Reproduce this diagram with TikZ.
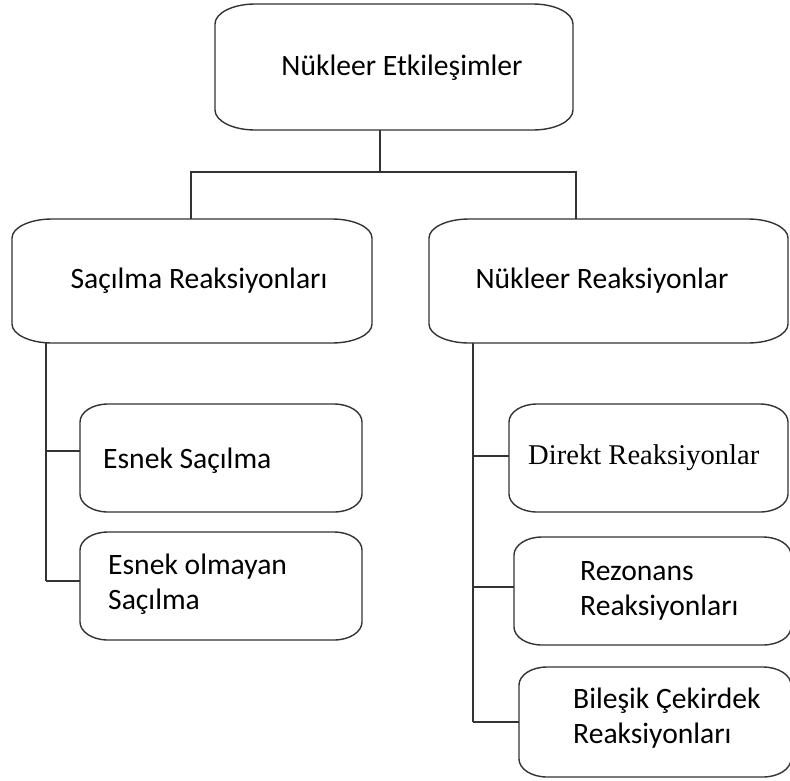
\documentclass[tikz,border=0pt]{standalone}
\usepackage{fontspec}
\setmainfont{Carlito}
\newfontfamily\timesf{Liberation Serif}
\tikzset{
  boxline/.style={draw=black!80, line width=1.4pt},
  conn/.style={draw=black!80, line width=1.4pt},
  frame/.style={inner sep=0pt, outer sep=0pt, draw=none},
  lbl/.style={inner sep=0pt, text=black, font=\fontsize{29.6}{35}\selectfont},
  lbll/.style={lbl, anchor=west, align=left}
}
\newcommand{\ebox}[3]{% name, rx, ry
  \draw[boxline] ([xshift=#2]#1.north west) -- ([xshift=-#2]#1.north east)
    arc[start angle=90, end angle=0, x radius=#2, y radius=#3]
    -- ([yshift=#3]#1.south east)
    arc[start angle=0, end angle=-90, x radius=#2, y radius=#3]
    -- ([xshift=#2]#1.south west)
    arc[start angle=270, end angle=180, x radius=#2, y radius=#3]
    -- ([yshift=-#3]#1.north west)
    arc[start angle=180, end angle=90, x radius=#2, y radius=#3] -- cycle;}
\begin{document}
\begin{tikzpicture}[x=1pt,y=-1pt]
\useasboundingbox[fill=white] (0,0) rectangle (790,780);
% boxes
\node[frame, minimum width=358pt, minimum height=126pt] (top) at (394,67) {};
\node[frame, minimum width=360pt, minimum height=124pt] (L) at (192,281) {};
\node[frame, minimum width=359pt, minimum height=124pt] (R) at (608.5,281) {};
\node[frame, minimum width=282pt, minimum height=108pt] (L1) at (221,458) {};
\node[frame, minimum width=282pt, minimum height=108pt] (L2) at (221,586) {};
\node[frame, minimum width=279pt, minimum height=108pt] (R1) at (648.5,458) {};
\node[frame, minimum width=277pt, minimum height=108pt] (R2) at (652.5,591) {};
\node[frame, minimum width=272pt, minimum height=110pt] (R3) at (655,722) {};
\ebox{top}{40pt}{20pt}
\ebox{L}{40pt}{19pt}
\ebox{R}{40pt}{19pt}
\ebox{L1}{28pt}{18pt}
\ebox{L2}{28pt}{18pt}
\ebox{R1}{28pt}{18pt}
\ebox{R2}{28pt}{18pt}
\ebox{R3}{28pt}{18pt}
% texts
\node[lbl] (ttop) at (402,68) {Nükleer Etkileşimler};
\node[lbl] (tL) at (199,281) {Saçılma Reaksiyonları};
\node[lbl] (tR) at (602,281) {Nükleer Reaksiyonlar};
\node[lbll] (tL1) at (103,461) {Esnek Saçılma};
\node[lbll] (tL2) at (108,584) {Esnek olmayan\\Saçılma};
\node[lbll, font=\fontsize{28.6}{35}\timesf] (tR1) at (528,458) {Direkt Reaksiyonlar};
\node[lbll] (tR2) at (580,591) {Rezonans\\Reaksiyonları};
\node[lbll] (tR3) at (573,718) {Bileşik Çekirdek\\Reaksiyonları};
% connectors
\coordinate (j) at (380,172);
\coordinate (jl) at (191,172);
\coordinate (jr) at (576,172);
\draw[conn] (top.south -| j) -- (j);
\draw[conn] (L.north -| jl) -- (jl) -- (jr) -- (R.north -| jr);
\coordinate (la) at (46,451);
\coordinate (lb) at (46,581);
\draw[conn] (L.south -| la) -- (lb);
\draw[conn] (la) -- (la -| L1.west);
\draw[conn] (lb) -- (lb -| L2.west);
\coordinate (ra) at (473,456);
\coordinate (rb) at (473,587);
\coordinate (rc) at (473,722);
\draw[conn] (R.south -| ra) -- (rc);
\draw[conn] (ra) -- (ra -| R1.west);
\draw[conn] (rb) -- (rb -| R2.west);
\draw[conn] (rc) -- (rc -| R3.west);
\end{tikzpicture}
\end{document}
